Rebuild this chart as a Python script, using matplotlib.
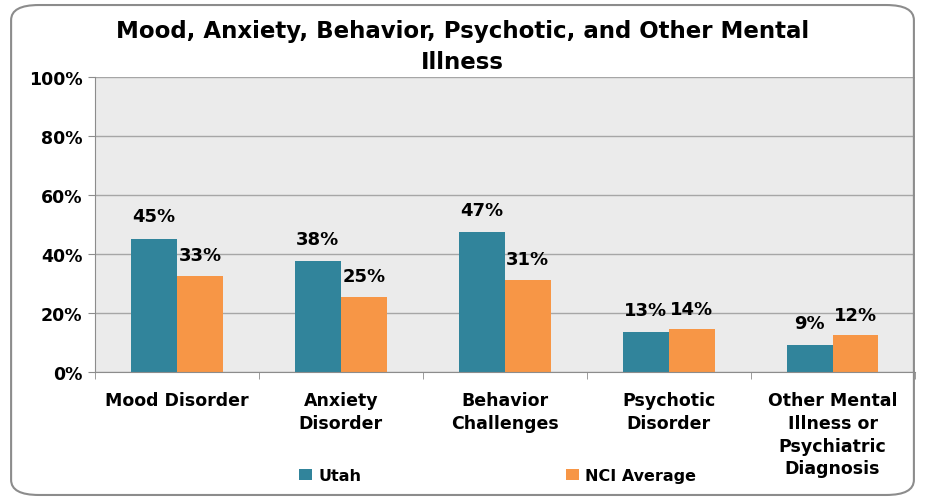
import numpy as np
import matplotlib.pyplot as plt
from matplotlib.patches import FancyBboxPatch

categories = ["Mood Disorder", "Anxiety\nDisorder", "Behavior\nChallenges",
              "Psychotic\nDisorder", "Other Mental\nIllness or\nPsychiatric\nDiagnosis"]
utah = [45.2, 37.6, 47.4, 13.4, 9.1]
nci = [32.6, 25.3, 31.1, 14.4, 12.4]
utah_labels = ["45%", "38%", "47%", "13%", "9%"]
nci_labels = ["33%", "25%", "31%", "14%", "12%"]

plt.rcParams['font.family'] = ['DejaVu Sans']
plt.rcParams['font.weight'] = 'bold'

fig = plt.figure(figsize=(9.25, 5.02), dpi=100)
ax = fig.add_axes([0.1027, 0.257, 0.886, 0.588])

# rounded outer border
border = FancyBboxPatch((0.012, 0.012), 0.976, 0.976, boxstyle="round,pad=0,rounding_size=0.03",
                        transform=fig.transFigure, fill=False, edgecolor='#8c8c8c', linewidth=1.5)
fig.patches.append(border)

x = np.arange(len(categories))
w = 0.28
b1 = ax.bar(x - w/2, utah, w, color='#31849B', label='Utah')
b2 = ax.bar(x + w/2, nci, w, color='#F79646', label='NCI Average')

for rect, lab in zip(b1, utah_labels):
    ax.text(rect.get_x() + rect.get_width()/2, rect.get_height() + 4.5, lab,
            ha='center', va='bottom', fontsize=13, fontweight='bold')
for rect, lab in zip(b2, nci_labels):
    ax.text(rect.get_x() + rect.get_width()/2, rect.get_height() + 4.0, lab,
            ha='center', va='bottom', fontsize=13, fontweight='bold')

ax.set_xlim(-0.5, len(categories) - 0.5)
ax.set_ylim(0, 100)
ax.set_facecolor('#EBEBEB')
ax.set_yticks(np.arange(0, 101, 20))
ax.set_yticklabels([f"{v}%" for v in range(0, 101, 20)], fontsize=12.5, fontweight='bold')
ax.yaxis.grid(True, color='#a6a6a6', linewidth=1)
ax.set_axisbelow(True)

ax.set_xticks(x)
ax.set_xticklabels(categories, fontsize=12.5, fontweight='bold', va='top', linespacing=1.33)
ax.tick_params(axis='x', length=0, pad=14)
ax.set_xticks(np.arange(-0.5, len(categories), 1), minor=True)
ax.tick_params(axis='x', which='minor', length=5, color='#8c8c8c')
ax.tick_params(axis='y', length=5, color='#8c8c8c', pad=4)

for s in ['top', 'right']:
    ax.spines[s].set_visible(False)
ax.spines['left'].set_color('#8c8c8c')
ax.spines['bottom'].set_color('#8c8c8c')

fig.suptitle("Mood, Anxiety, Behavior, Psychotic, and Other Mental\nIllness",
             fontsize=16.5, fontweight='bold', y=0.96, linespacing=1.45)

fig.legend(loc='center', bbox_to_anchor=(0.538, 0.05), ncol=2, frameon=False,
           fontsize=11.5, columnspacing=12.8, handlelength=0.8, handletextpad=0.4)

fig.savefig("out.png", dpi=100)
